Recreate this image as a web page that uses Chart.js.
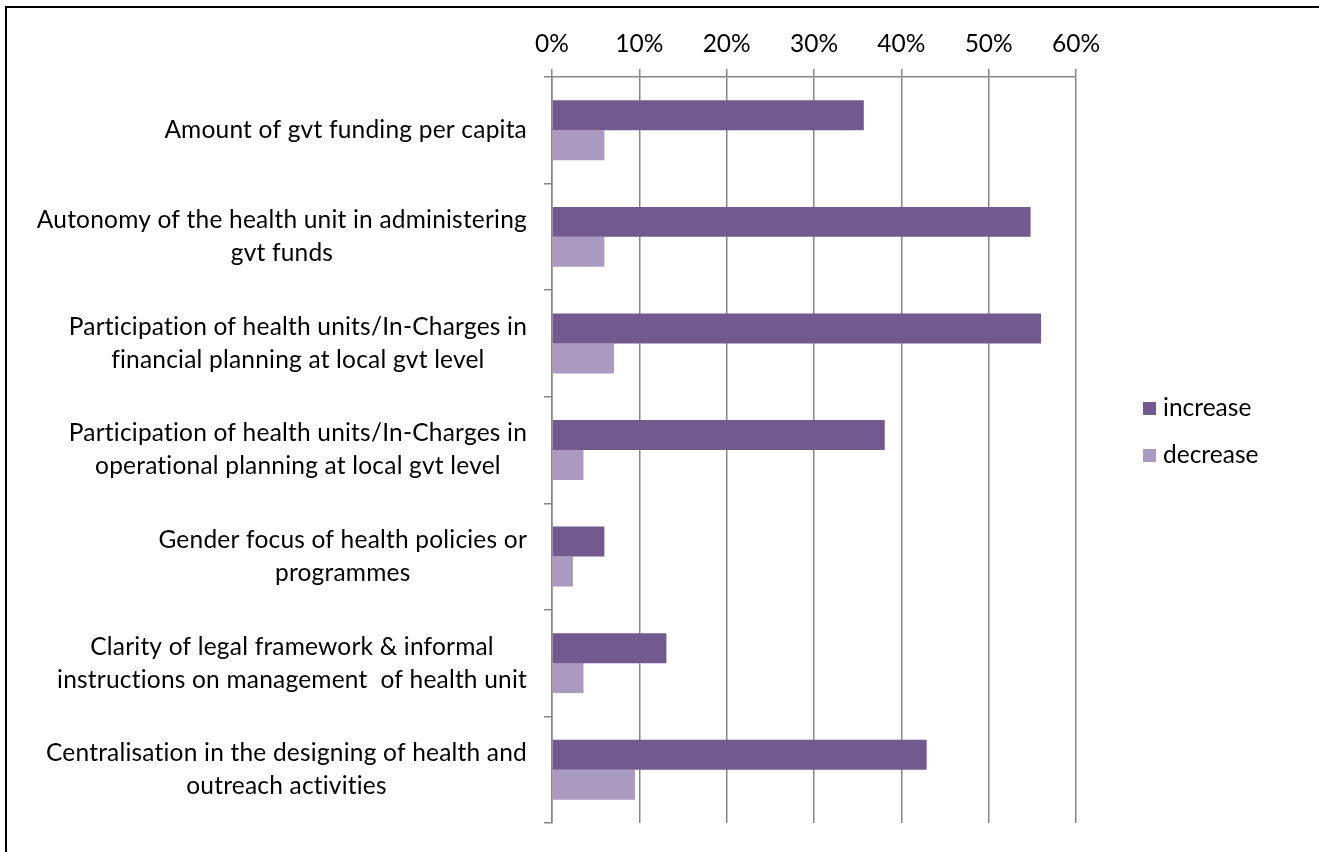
<!DOCTYPE html>
<html>
<head>
<meta charset="utf-8">
<title>Policy changes</title>
<script src="https://cdn.jsdelivr.net/npm/chart.js@4/dist/chart.umd.min.js"></script>
<style>
  html, body { margin: 0; padding: 0; background: #fff; }
  #wrap { position: relative; width: 1319px; height: 852px; }
  #frame {
    position: absolute; left: 5px; top: 6px; right: -10px; bottom: -10px;
    border-left: 2px solid #000; border-top: 2px solid #000;
    pointer-events: none;
  }
</style>
</head>
<body>
<div id="wrap">
  <canvas id="policyChart" width="1319" height="852"></canvas>
  <div id="frame"></div>
</div>
<script>
// categories (each entry is the wrapped label lines)
const categories = [
  ["Amount of gvt funding per capita"],
  ["Autonomy of the health unit in administering", "gvt funds"],
  ["Participation of health units/In-Charges in", "financial planning at local gvt level"],
  ["Participation of health units/In-Charges in", "operational planning at local gvt level"],
  ["Gender focus of health policies or", "programmes"],
  ["Clarity of legal framework & informal", "instructions on management  of health unit"],
  ["Centralisation in the designing of health and", "outreach activities"]
];

// share of respondents, in percent
const increaseValues = [35.7, 54.8, 56.0, 38.1, 6.0, 13.1, 42.9];
const decreaseValues = [6.0, 6.0, 7.1, 3.6, 2.4, 3.6, 9.5];

const seriesNames = ["increase", "decrease"];
const seriesColors = ["#725A8E", "#AA9ABF"];
const xTicks = [0, 10, 20, 30, 40, 50, 60];

const FONT = "Lato, 'Liberation Sans', sans-serif";
const FONT_SIZE = 24.5;
const GRID = "#868686";

// draws the wrapped category names, each block centred on itself and right-aligned to the axis
const categoryLabels = {
  id: "categoryLabels",
  afterDraw(chart) {
    const ctx = chart.ctx;
    const yScale = chart.scales.y;
    const right = yScale.right - 25;
    const lineH = 33;
    ctx.save();
    ctx.font = FONT_SIZE + "px " + FONT;
    ctx.letterSpacing = "0.2px"; // also keeps "ti"/"fi" from joining
    ctx.fillStyle = "#000";
    ctx.textAlign = "center";
    ctx.textBaseline = "middle";
    categories.forEach((lines, i) => {
      const y = yScale.getPixelForTick(i);
      const maxW = Math.max(...lines.map(l => ctx.measureText(l).width));
      const cx = right - maxW / 2;
      const y0 = y - (lines.length - 1) * lineH / 2;
      lines.forEach((l, k) => ctx.fillText(l, cx, y0 + k * lineH));
    });
    ctx.restore();
  }
};

// legend to the right of the plot
const sideLegend = {
  id: "sideLegend",
  afterDraw(chart) {
    const ctx = chart.ctx;
    ctx.save();
    ctx.font = FONT_SIZE + "px " + FONT;
    ctx.textBaseline = "middle";
    chart.data.datasets.forEach((ds, i) => {
      const y = 408 + i * 47;
      ctx.fillStyle = ds.backgroundColor;
      ctx.fillRect(1143, y - 6, 13, 13);
      ctx.fillStyle = "#000";
      ctx.fillText(ds.label, 1163, y);
    });
    ctx.restore();
  }
};

const ctx = document.getElementById("policyChart").getContext("2d");
new Chart(ctx, {
  type: "bar",
  data: {
    labels: categories,
    datasets: [
      { label: seriesNames[0], data: increaseValues, backgroundColor: seriesColors[0] },
      { label: seriesNames[1], data: decreaseValues, backgroundColor: seriesColors[1] }
    ]
  },
  options: {
    indexAxis: "y",
    responsive: false,
    animation: false,
    events: [],
    layout: { padding: { top: 0, right: 243, bottom: 29, left: 0 } },
    datasets: {
      bar: { categoryPercentage: 0.5625, barPercentage: 1, borderWidth: 0 }
    },
    plugins: {
      legend: { display: false },
      tooltip: { enabled: false }
    },
    scales: {
      x: {
        position: "top",
        min: xTicks[0],
        max: xTicks[xTicks.length - 1],
        afterFit(scale) { scale.height = 77; },
        afterBuildTicks(scale) { scale.ticks = xTicks.map(v => ({ value: v })); },
        ticks: {
          padding: 10,
          color: "#000",
          font: { family: FONT, size: FONT_SIZE },
          callback: v => v + "%"
        },
        grid: { color: GRID, lineWidth: 1.5, tickLength: 8, drawTicks: true },
        border: { color: GRID, width: 1.5 }
      },
      y: {
        afterFit(scale) { scale.width = 552; },
        ticks: { display: false },
        grid: { color: GRID, lineWidth: 1.5, drawOnChartArea: false, drawTicks: true, tickLength: 8, offset: true },
        border: { color: GRID, width: 1.5 }
      }
    }
  },
  plugins: [categoryLabels, sideLegend]
});
</script>
</body>
</html>
